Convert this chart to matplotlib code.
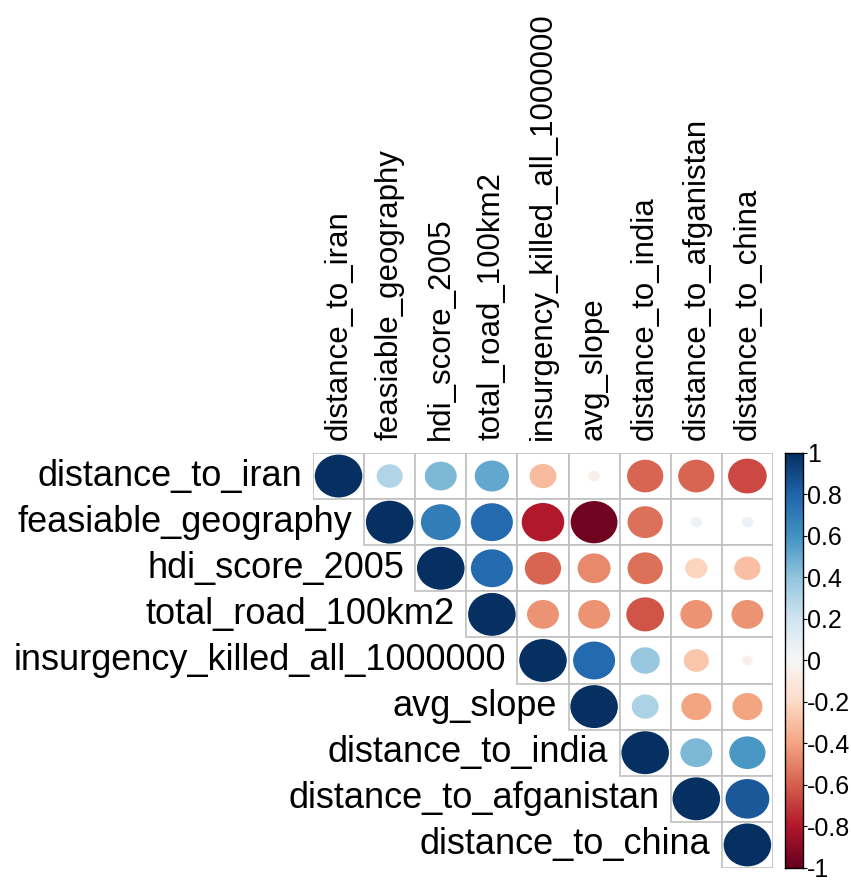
import matplotlib.pyplot as plt
from matplotlib.patches import Ellipse, Rectangle
import numpy as np

plt.rcParams['font.family'] = ['Liberation Sans', 'DejaVu Sans']

labels = ['distance_to_iran', 'feasiable_geography', 'hdi_score_2005',
          'total_road_100km2', 'insurgency_killed_all_1000000', 'avg_slope',
          'distance_to_india', 'distance_to_afganistan', 'distance_to_china']

# upper triangle of the correlation matrix, row by row (starting at the diagonal)
row_iran = [1.0, 0.30, 0.45, 0.52, -0.32, -0.06, -0.58, -0.58, -0.66]
row_geo = [1.0, 0.70, 0.78, -0.80, -0.97, -0.55, 0.06, 0.06]
row_hdi = [1.0, 0.78, -0.58, -0.48, -0.55, -0.22, -0.30]
row_road = [1.0, -0.45, -0.45, -0.63, -0.45, -0.45]
row_insurg = [1.0, 0.78, 0.38, -0.28, -0.05]
row_slope = [1.0, 0.32, -0.40, -0.40]
row_india = [1.0, 0.45, 0.58]
row_afg = [1.0, 0.85]
row_china = [1.0]

rows = [row_iran, row_geo, row_hdi, row_road, row_insurg,
        row_slope, row_india, row_afg, row_china]
n = len(labels)
corr = np.full((n, n), np.nan)
for i, r in enumerate(rows):
    corr[i, i:] = r

fig = plt.figure(figsize=(8.51, 8.82), dpi=100)
ax = fig.add_axes([0.3678, 0.0159, 0.5405, 0.4705])
cmap = plt.get_cmap('RdBu')

for i in range(n):
    for j in range(i, n):
        ax.add_patch(Rectangle((j - 0.5, i - 0.5), 1, 1, facecolor='white',
                               edgecolor='#c0c0c0', linewidth=1.2, zorder=1))
        v = corr[i, j]
        s = 0.93 * np.sqrt(abs(v))
        ax.add_patch(Ellipse((j, i), s, s, facecolor=cmap((v + 1) / 2),
                             edgecolor='none', zorder=2))

ax.set_xlim(-0.5, n - 0.5)
ax.set_ylim(n - 0.5, -0.5)
ax.axis('off')

for i, lab in enumerate(labels):
    ax.text(i - 0.72, i, lab, ha='right', va='center', fontsize=26)
    ax.text(i, -0.78, lab, ha='center', va='bottom', rotation=90, fontsize=22.5)

# colour legend
cax = fig.add_axes([0.9224, 0.0159, 0.0212, 0.4705])
grad = np.linspace(-1, 1, 256).reshape(-1, 1)
cax.imshow(grad, cmap=cmap, aspect='auto', origin='lower', extent=[0, 1, -1, 1])
cax.set_xticks([])
cax.yaxis.tick_right()
ticks = np.round(np.arange(-1, 1.01, 0.2), 1)
cax.set_yticks(ticks)
cax.set_yticklabels(['%g' % t if t != 0 else '0' for t in ticks])
cax.tick_params(axis='y', length=3, width=0.8, pad=0, labelsize=18)
for sp in cax.spines.values():
    sp.set_linewidth(1.0)

fig.savefig('out.png', dpi=100)
